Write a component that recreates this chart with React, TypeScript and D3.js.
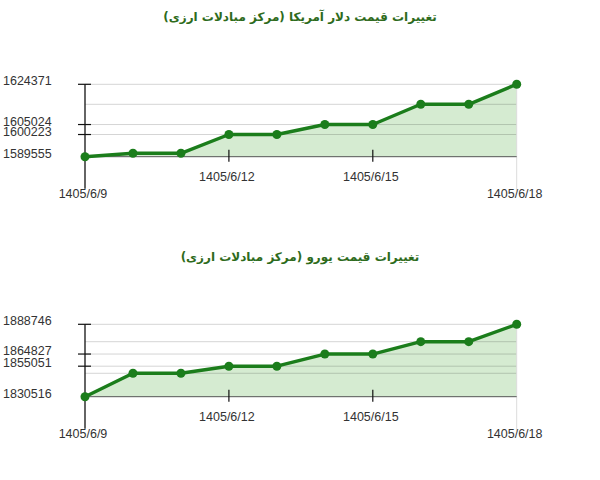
import React from 'react';
import * as d3 from 'd3';

const dates = ['1405/6/9', '1405/6/10', '1405/6/11', '1405/6/12', '1405/6/13', '1405/6/14', '1405/6/15', '1405/6/16', '1405/6/17', '1405/6/18'];
const shownDates = [0, 3, 6, 9];

const usdValues = [1589555, 1591190, 1591190, 1600223, 1600223, 1605024, 1605024, 1614750, 1614750, 1624371];
const usdTicks = [1624371, 1605024, 1600223, 1589555];
const usdGrid = [1614750];

const eurValues = [1830516, 1849340, 1849340, 1855051, 1855051, 1864827, 1864827, 1874760, 1874760, 1888746];
const eurTicks = [1888746, 1864827, 1855051, 1830516];
const eurGrid = [1874760, 1849340];

const titles = ['تغییرات قیمت دلار آمریکا (مرکز مبادلات ارزی)', 'تغییرات قیمت یورو (مرکز مبادلات ارزی)'];

interface ChartProps {
  top: number;
  title: string;
  values: number[];
  ticks: number[];
  grid: number[];
}

const LINE = '#1b7d1b';
const FONT = 'Arial, "Liberation Sans", sans-serif';

const Chart: React.FC<ChartProps> = ({ top, title, values, ticks, grid }) => {
  const plotTop = top + 84.3;
  const plotBottom = top + 156.7;
  const x = d3.scaleLinear().domain([0, dates.length - 1]).range([85, 516.7]);
  const y = d3
    .scaleLinear()
    .domain([d3.min(values)!, d3.max(values)!])
    .range([plotBottom, plotTop]);

  const line = d3
    .line<number>()
    .x((_, i) => x(i))
    .y((d) => y(d));
  const area = d3
    .area<number>()
    .x((_, i) => x(i))
    .y0(plotBottom)
    .y1((d) => y(d));

  const minV = d3.min(values)!;
  const [x0, x1] = x.range();

  return (
    <g>
      <text
        x={300}
        y={top + 21}
        textAnchor="middle"
        direction="rtl"
        fontFamily='Tahoma, "DejaVu Sans", sans-serif'
        fontWeight="bold"
        fontSize={12}
        fill="#2e6b1c"
      >
        {title}
      </text>

      <path d={area(values) || ''} fill="#d5ebd1" />

      {/* grid lines, visible through the fill */}
      {[...ticks, ...grid]
        .filter((v) => v !== minV)
        .map((v) => (
          <line key={'g' + v} x1={x0} x2={x1} y1={y(v)} y2={y(v)} stroke="rgba(0,0,0,0.17)" strokeWidth={1} />
        ))}
      <line x1={x1} x2={x1} y1={plotTop} y2={plotBottom + 34} stroke="#dcdcdc" strokeWidth={1} />

      <line x1={x0} x2={x1} y1={plotBottom} y2={plotBottom} stroke="#555" strokeWidth={1} />
      <line x1={x0} x2={x0} y1={plotTop} y2={plotBottom + 32} stroke="#111" strokeWidth={1.3} />

      {/* y ticks + labels */}
      {ticks.map((v) => (
        <g key={'t' + v}>
          {v !== minV && <line x1={78} x2={91} y1={y(v)} y2={y(v)} stroke="#111" strokeWidth={1.2} />}
          <text x={3} y={y(v) + 1} fontFamily={FONT} fontSize={12.5} fill="#333">
            {v}
          </text>
        </g>
      ))}

      {/* x ticks + labels */}
      {shownDates.map((i, k) => {
        const edge = k === 0 || k === shownDates.length - 1;
        return (
          <g key={'x' + i}>
            {!edge && (
              <line x1={x(i)} x2={x(i)} y1={plotBottom - 7} y2={plotBottom + 5} stroke="#111" strokeWidth={1.2} />
            )}
            <text
              x={x(i) - 2}
              y={plotBottom + (edge ? 41.5 : 24.5)}
              textAnchor="middle"
              fontFamily={FONT}
              fontSize={12.5}
              fill="#333"
            >
              {dates[i]}
            </text>
          </g>
        );
      })}

      <path d={line(values) || ''} fill="none" stroke={LINE} strokeWidth={3.4} strokeLinejoin="round" />
      {values.map((v, i) => (
        <circle key={'p' + i} cx={x(i)} cy={y(v)} r={4.5} fill={LINE} />
      ))}
    </g>
  );
};

const App: React.FC = () => {
  return (
    <svg
      width={600}
      height={480}
      style={{ position: 'absolute', left: 0, top: 0, background: '#fff' }}
    >
      <Chart top={0} title={titles[0]} values={usdValues} ticks={usdTicks} grid={usdGrid} />
      <Chart top={240} title={titles[1]} values={eurValues} ticks={eurTicks} grid={eurGrid} />
    </svg>
  );
};

export default App;
